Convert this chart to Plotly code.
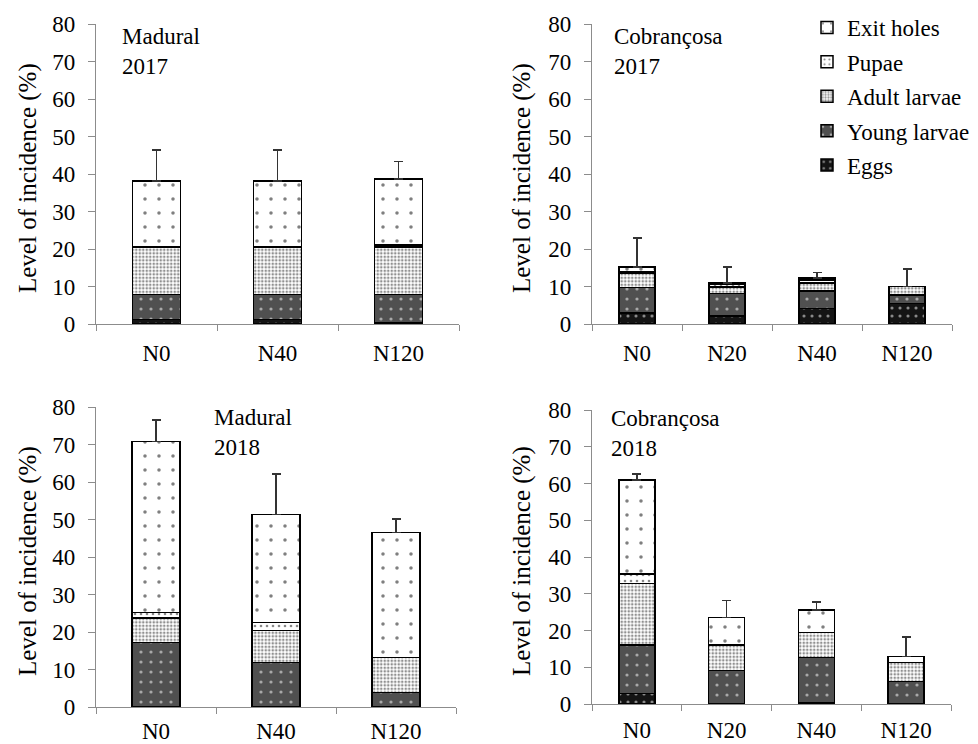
import plotly.graph_objects as go

# ---------------- DATA ----------------
cats_madural = ["N0", "N40", "N120"]
cats_cobrancosa = ["N0", "N20", "N40", "N120"]
series_names = ["Eggs", "Young larvae", "Adult larvae", "Pupae", "Exit holes"]

# Madural 2017
mad17_eggs = [1.2, 1.2, 0.4]
mad17_young = [6.7, 6.7, 7.5]
mad17_adult = [12.6, 12.6, 12.6]
mad17_pupae = [0.0, 0.0, 0.6]
mad17_exit = [17.7, 17.7, 17.6]
mad17_err = [8.2, 8.2, 4.6]

# Cobrançosa 2017
cob17_eggs = [2.9, 2.2, 4.2, 5.5]
cob17_young = [6.9, 6.0, 4.6, 2.3]
cob17_adult = [3.8, 1.7, 2.1, 2.2]
cob17_pupae = [0.3, 0.6, 0.9, 0.0]
cob17_exit = [1.3, 0.4, 0.5, 0.0]
cob17_err = [7.8, 4.3, 1.5, 4.7]

# Madural 2018
mad18_eggs = [0.0, 0.0, 0.0]
mad18_young = [17.2, 11.9, 3.9]
mad18_adult = [6.5, 8.5, 9.3]
mad18_pupae = [1.5, 2.2, 0.0]
mad18_exit = [45.6, 28.7, 33.4]
mad18_err = [5.7, 10.9, 3.6]

# Cobrançosa 2018
cob18_eggs = [2.9, 0.0, 0.3, 0.0]
cob18_young = [13.1, 9.1, 12.4, 6.1]
cob18_adult = [16.8, 6.9, 6.8, 5.2]
cob18_pupae = [2.6, 0.0, 0.0, 0.0]
cob18_exit = [25.5, 7.5, 6.1, 1.6]
cob18_err = [1.7, 4.6, 2.1, 5.4]

panel_labels = ["Madural<br>2017", "Cobrançosa<br>2017", "Madural<br>2018", "Cobrançosa<br>2018"]
y_title = "Level of incidence (%)"

# ---------------- STYLE ----------------
OFF = 8                      # page body margin
W, H = 978 - OFF, 744 - OFF  # figure size so it fills the window
FONT = "Liberation Serif"
FS = 23
AXCOL = "#8c8c8c"


def fx(x):
    return (x - OFF) / W


def fy(y):
    return 1 - (y - OFF) / H


styles = {
    "Eggs": dict(color="#141414", pattern=dict(shape=".", fgcolor="white", size=8, solidity=0.12)),
    "Young larvae": dict(color="#505050", pattern=dict(shape=".", fgcolor="white", size=10, solidity=0.08)),
    "Adult larvae": dict(color="white", pattern=dict(shape=".", fgcolor="#222222", size=3.5, solidity=0.45)),
    "Pupae": dict(color="white", pattern=dict(shape=".", fgcolor="#111111", size=6, solidity=0.15)),
    "Exit holes": dict(color="white", pattern=dict(shape=".", fgcolor="#000000", size=14, solidity=0.05)),
}
legend_rank = {"Exit holes": 1, "Pupae": 2, "Adult larvae": 3, "Young larvae": 4, "Eggs": 5}

panels = [
    dict(cats=cats_madural, vals=[mad17_eggs, mad17_young, mad17_adult, mad17_pupae, mad17_exit], err=mad17_err,
         px=(96, 459), py=(24, 324), standoff=8),
    dict(cats=cats_cobrancosa, vals=[cob17_eggs, cob17_young, cob17_adult, cob17_pupae, cob17_exit], err=cob17_err,
         px=(592, 952), py=(24, 324), standoff=8),
    dict(cats=cats_madural, vals=[mad18_eggs, mad18_young, mad18_adult, mad18_pupae, mad18_exit], err=mad18_err,
         px=(96, 456), py=(407, 707), standoff=3),
    dict(cats=cats_cobrancosa, vals=[cob18_eggs, cob18_young, cob18_adult, cob18_pupae, cob18_exit], err=cob18_err,
         px=(592, 951), py=(410, 704), standoff=5),
]
label_pos = [(120, 22), (612, 22), (212, 403), (609, 404)]
ytitle_x = [28, 522, 28, 522]

fig = go.Figure()
layout = dict(
    width=W, height=H, margin=dict(l=0, r=0, t=0, b=0, autoexpand=False),
    paper_bgcolor="white", plot_bgcolor="white",
    barmode="stack", bargap=0.6,
    font=dict(family=FONT, size=FS, color="black"),
    showlegend=True,
    legend=dict(x=fx(807), y=fy(6), xanchor="left", yanchor="top",
                traceorder="grouped", tracegroupgap=1.5,
                font=dict(family=FONT, size=FS, color="black"),
                bgcolor="rgba(0,0,0,0)", itemwidth=30),
)
annotations = []

for i, p in enumerate(panels):
    k = "" if i == 0 else str(i + 1)
    xa, ya = "x" + k, "y" + k
    n = len(p["cats"])
    for j, name in enumerate(series_names):
        st = styles[name]
        tr = dict(
            x=p["cats"], y=p["vals"][j], name=name, xaxis=xa, yaxis=ya,
            legendgroup=name, showlegend=(i == 0), legendrank=legend_rank[name],
            marker=dict(color=st["color"], pattern=st["pattern"],
                        line=dict(color="black", width=1.5)),
            hoverinfo="skip",
        )
        if name == "Exit holes":
            tr["error_y"] = dict(type="data", symmetric=False, array=p["err"],
                                 arrayminus=[0] * n, color="#333333",
                                 thickness=1.5, width=4.5)
        fig.add_trace(go.Bar(**tr))

    x0, x1 = p["px"]
    ytop, ybot = p["py"]
    layout["xaxis" + k] = dict(
        domain=[fx(x0), fx(x1)], anchor=ya, type="category", automargin=False,
        showline=True, linecolor=AXCOL, linewidth=1.3,
        ticks="outside", tickson="boundaries", ticklen=6, tickcolor=AXCOL, tickwidth=1.3,
        showgrid=False, zeroline=False, ticklabelstandoff=p["standoff"],
        tickfont=dict(family=FONT, size=FS, color="black"),
    )
    layout["yaxis" + k] = dict(
        domain=[fy(ybot), fy(ytop)], anchor=xa, range=[0, 80], dtick=10, automargin=False,
        showline=True, linecolor=AXCOL, linewidth=1.3,
        ticks="outside", ticklen=7, tickcolor=AXCOL, tickwidth=1.3,
        showgrid=False, zeroline=False, ticklabelstandoff=8,
        tickfont=dict(family=FONT, size=FS, color="black"),
    )
    lx, ly = label_pos[i]
    annotations.append(dict(
        xref="paper", yref="paper", x=fx(lx), y=fy(ly), xanchor="left", yanchor="top",
        text=panel_labels[i], showarrow=False, align="left",
        font=dict(family=FONT, size=FS, color="black"),
    ))
    annotations.append(dict(
        xref="paper", yref="paper", x=fx(ytitle_x[i]), y=fy((ytop + ybot) / 2 + 4),
        xanchor="center", yanchor="middle", textangle=-90,
        text=y_title, showarrow=False,
        font=dict(family=FONT, size=25, color="black"),
    ))

layout["annotations"] = annotations
fig.update_layout(**layout)
fig.write_html("out.html")
